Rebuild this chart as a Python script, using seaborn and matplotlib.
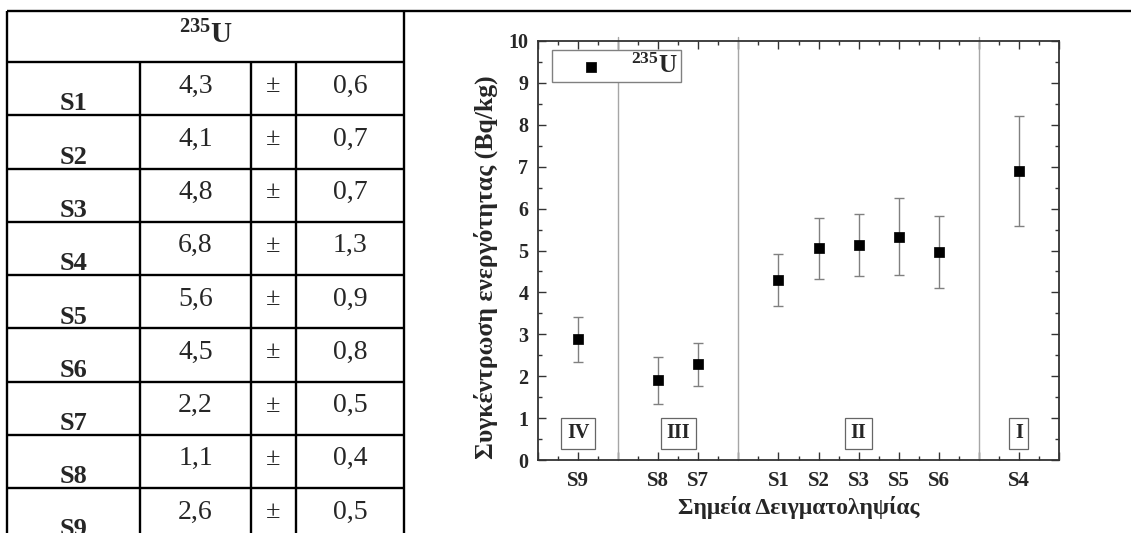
import numpy as np
import pandas as pd
import matplotlib
matplotlib.use("Agg")
import matplotlib.pyplot as plt
import seaborn as sns
from matplotlib.ticker import FixedLocator, MultipleLocator, FixedFormatter

# ---------------- data ----------------
# table (left)
table_samples = ["S1", "S2", "S3", "S4", "S5", "S6", "S7", "S8", "S9"]
table_values = ["4,3", "4,1", "4,8", "6,8", "5,6", "4,5", "2,2", "1,1", "2,6"]
table_errors = ["0,6", "0,7", "0,7", "1,3", "0,9", "0,8", "0,5", "0,4", "0,5"]
table_header = r"$\mathbf{^{235}U}$"

# chart (right)
chart_samples = ["S9", "S8", "S7", "S1", "S2", "S3", "S5", "S6", "S4"]
chart_groups = ["IV", "III", "III", "II", "II", "II", "II", "II", "I"]
chart_values = [2.88, 1.90, 2.28, 4.30, 5.05, 5.13, 5.33, 4.96, 6.90]
chart_errors = [0.54, 0.57, 0.52, 0.62, 0.72, 0.73, 0.92, 0.86, 1.32]
series_label = r"$\mathbf{^{235}U}$"
y_label = "Συγκέντρωση ενεργότητας (Bq/kg)"
x_label = "Σημεία Δειγματοληψίας"

# ---------------- style ----------------
sns.set_theme(style="ticks")
plt.rcParams["font.family"] = ["Liberation Serif", "DejaVu Serif"]
plt.rcParams["mathtext.fontset"] = "custom"
plt.rcParams["mathtext.rm"] = "Liberation Serif"
plt.rcParams["mathtext.bf"] = "Liberation Serif:bold"
plt.rcParams["mathtext.it"] = "Liberation Serif:italic"

W, H = 1131, 533
fig = plt.figure(figsize=(W / 100, H / 100), dpi=100)

# ---------------- table drawn on a figure-size axes (pixel coords) ----------------
tax = fig.add_axes([0, 0, 1, 1], zorder=0)
tax.set_xlim(0, W)
tax.set_ylim(H, 0)
tax.axis("off")

lw_tab = 1.7
left_x, right_x = 7, 404
col_x = [140, 251, 296]
top_y, header_bot = 11, 62
row_h = 53.25

tax.hlines(top_y, left_x, W, color="black", lw=lw_tab)
tax.vlines([left_x, right_x], top_y, H, color="black", lw=lw_tab)
tax.vlines(col_x, header_bot, H, color="black", lw=lw_tab)
n = len(table_samples)
row_tops = [header_bot + i * row_h for i in range(n)]
tax.hlines(row_tops + [header_bot + n * row_h], left_x, right_x, color="black", lw=lw_tab)

tax.text((left_x + right_x) / 2, 43, table_header, ha="center", va="baseline", fontsize=21)
for top, s, v, e in zip(row_tops, table_samples, table_values, table_errors):
    tax.text((left_x + col_x[0]) / 2, top + 42, s, ha="center", va="center",
             fontsize=19, fontweight="bold")
    tax.text((col_x[0] + col_x[1]) / 2, top + 24, v, ha="center", va="center", fontsize=20)
    tax.text((col_x[1] + col_x[2]) / 2, top + 24, "±", ha="center", va="center", fontsize=19)
    tax.text((col_x[2] + right_x) / 2, top + 24, e, ha="center", va="center", fontsize=20)

# ---------------- chart ----------------
# positions: one slot per sample, one extra slot (separator) between groups
positions, boundaries = [], []
pos = 0
for i, g in enumerate(chart_groups):
    if i > 0 and g != chart_groups[i - 1]:
        pos += 1
        boundaries.append(pos)
    pos += 1
    positions.append(pos)
x_max = pos + 1

df = pd.DataFrame({"sample": chart_samples, "group": chart_groups,
                   "value": chart_values, "error": chart_errors, "pos": positions})

ax = fig.add_axes([538 / W, (H - 460) / H, (1059 - 538) / W, (460 - 41) / H], zorder=2)

for b in boundaries:
    ax.axvline(b, ymin=0, ymax=1.01, color="#a6a6a6", lw=1.0, zorder=1, clip_on=False)

ax.errorbar(df["pos"], df["value"], yerr=df["error"], fmt="none", ecolor="#808080",
            elinewidth=1.0, capsize=3.5, capthick=1.0, zorder=2)
sns.scatterplot(data=df, x="pos", y="value", marker="s", color="black", edgecolor="black",
                s=42, ax=ax, zorder=3, label=series_label)

# group labels
for g in dict.fromkeys(chart_groups):
    gx = df.loc[df["group"] == g, "pos"].mean()
    ax.text(gx, 0.64, g, ha="center", va="center", fontsize=14.5, fontweight="bold",
            bbox=dict(boxstyle="square,pad=0.28", fc="white", ec="#666666", lw=0.9), zorder=4)

ax.set_xlim(0, x_max)
ax.set_ylim(0, 10)
major_x = list(range(0, x_max + 1))
ax.xaxis.set_major_locator(FixedLocator(major_x))
label_map = dict(zip(positions, chart_samples))
ax.xaxis.set_major_formatter(FixedFormatter([label_map.get(v, "") for v in major_x]))
ax.xaxis.set_minor_locator(MultipleLocator(0.5))
ax.yaxis.set_major_locator(MultipleLocator(1))
ax.yaxis.set_minor_locator(MultipleLocator(0.5))

spine_c = "#333333"
for sp in ax.spines.values():
    sp.set_color(spine_c)
    sp.set_linewidth(1.3)
ax.tick_params(which="both", direction="in", top=True, right=True, color=spine_c, width=1.0)
ax.tick_params(which="major", length=6)
ax.tick_params(which="minor", length=3)
ax.tick_params(axis="x", which="major", pad=8, labelsize=15)
ax.tick_params(axis="y", which="major", pad=7, labelsize=14.5)
for lab in ax.get_xticklabels() + ax.get_yticklabels():
    lab.set_fontweight("bold")

ax.set_xlabel(x_label, fontsize=17, fontweight="bold")
ax.set_ylabel(y_label, fontsize=18.5, fontweight="bold")
ax.xaxis.set_label_coords(0.5, -0.086)
ax.yaxis.set_label_coords(-0.077, 0.46)
ax.xaxis.label.set_va("top")

leg = ax.legend(loc="upper left", bbox_to_anchor=(0.027, 0.978), borderaxespad=0,
                fontsize=18, handlelength=2.8, handletextpad=0.2, borderpad=0.15,
                fancybox=False, framealpha=1, edgecolor="#808080", markerscale=1.0)
leg.get_frame().set_linewidth(1.0)

fig.savefig("out.png", dpi=100)
